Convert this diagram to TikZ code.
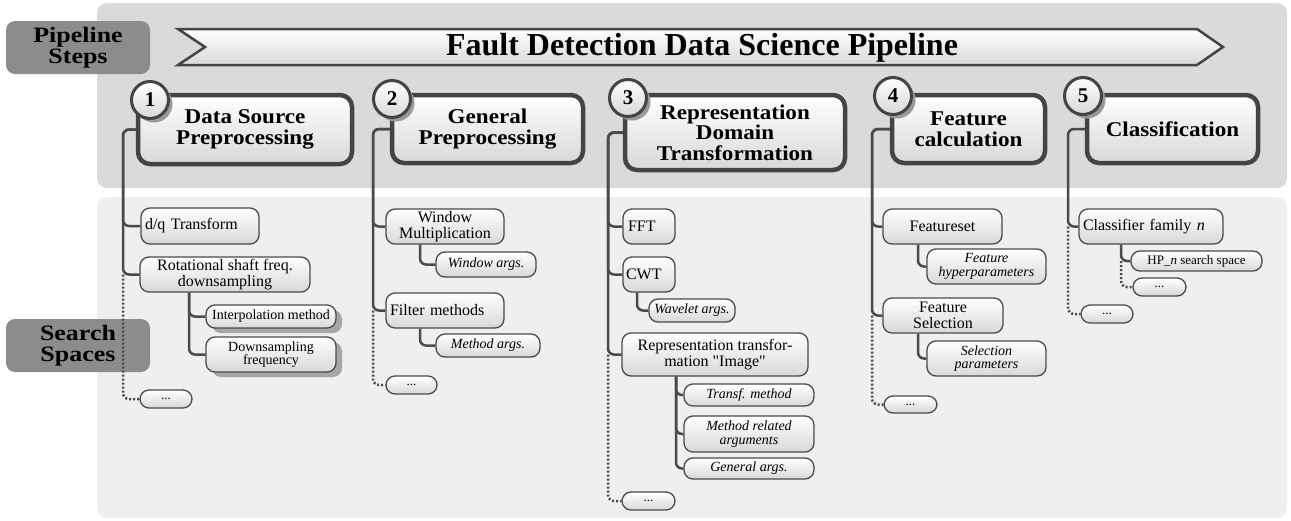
\documentclass[tikz,border=0pt]{standalone}
\usepackage{fontspec}
\setmainfont{LiberationSerif}[Extension=.ttf, UprightFont=*-Regular, BoldFont=*-Bold, ItalicFont=*-Italic, BoldItalicFont=*-BoldItalic]
\newfontfamily\widebf{LiberationSerif}[Extension=.ttf, UprightFont=*-Regular, BoldFont=*-Bold, ItalicFont=*-Italic, BoldItalicFont=*-BoldItalic, FakeStretch=1.1]
\newfontfamily\labfont{LiberationSerif}[Extension=.ttf, UprightFont=*-Regular, BoldFont=*-Bold, ItalicFont=*-Italic, BoldItalicFont=*-BoldItalic, FakeStretch=1.18]
\usetikzlibrary{shadows}
\definecolor{panelTop}{HTML}{DADADA}
\definecolor{panelBot}{HTML}{EFEFEF}
\definecolor{labelGray}{HTML}{8C8C8C}
\definecolor{lineGray}{HTML}{4A4A4A}
\definecolor{boxBorder}{HTML}{444444}
\definecolor{shadeBot}{HTML}{D8D8D8}
\pgfdeclarelayer{back}
\pgfdeclarelayer{mid}
\pgfsetlayers{back,mid,main}
\tikzset{
  stepbox/.style={draw=boxBorder, line width=4.5pt, rounded corners=12pt, top color=white, bottom color=shadeBot, align=center, inner sep=2pt, font=\widebf\bfseries\fontsize{21}{20.5}\selectfont},
  stepnum/.style={circle, draw=boxBorder, line width=3pt, minimum size=37pt, inner sep=0pt, top color=white, bottom color=shadeBot, drop shadow={shadow xshift=4pt, shadow yshift=-4pt, fill=black!40, opacity=1}, font=\bfseries\fontsize{21}{21}\selectfont},
  lab/.style={fill=labelGray, rounded corners=9pt, minimum width=144pt, minimum height=53pt, align=center, inner sep=0pt, font=\labfont\bfseries\fontsize{22}{21}\selectfont},
  leafbox/.style={draw=lineGray, line width=1.3pt, rounded corners=9pt, top color=white, bottom color=shadeBot, align=center, inner sep=1pt, font=\fontsize{16}{15.5}\selectfont},
  lft/.style={align=left, text width=#1},
  argbox/.style={leafbox, font=\itshape\fontsize{14}{13.5}\selectfont},
  smallbox/.style={leafbox, font=\fontsize{14}{13}\selectfont},
  tinybox/.style={leafbox, font=\fontsize{13}{13}\selectfont},
  shad/.style={drop shadow={shadow xshift=6pt, shadow yshift=-5pt, fill=black!35, opacity=1}},
  conn/.style={draw=lineGray, line width=2.5pt, rounded corners=6pt},
  dotconn/.style={draw=lineGray, line width=2.5pt, dash pattern=on 2pt off 2pt, rounded corners=6pt},
  banner/.style={draw=boxBorder, line width=2.5pt, top color=white, bottom color=shadeBot, line join=miter},
}
\newcommand\mkleaf[7][leafbox]{\node[#1,minimum width={(#5)-(#3)},minimum height={(#6)-(#4)}] (#2) at ({((#3)+(#5))/2},{-((#4)+(#6))/2}) {#7};}
\begin{document}
\begin{tikzpicture}[x=1pt,y=1pt]
\useasboundingbox (0,0) rectangle (1291,-520);
\begin{pgfonlayer}{back}
  \fill[panelTop, rounded corners=10pt] (97,-3) rectangle (1287,-188);
  \fill[panelBot, rounded corners=10pt] (97,-197) rectangle (1287,-518);
  \node[lab] (lstep) at (78,-47.5) {Pipeline\\Steps};
  \node[lab] (lsearch) at (78,-345.5) {Search\\Spaces};
  \draw[banner] (178,-29) -- (1197,-29) -- (1223,-47) -- (1197,-65) -- (178,-65) -- (205,-47) -- cycle;
\end{pgfonlayer}
\node[font=\bfseries\fontsize{32}{32}\selectfont] (title) at (702,-47.5) {Fault Detection Data Science Pipeline};

% step boxes
\mkleaf[stepbox]{s1}{138}{95}{352}{164}{Data Source\\Preprocessing}
\mkleaf[stepbox]{s2}{392}{95}{583}{163}{General\\Preprocessing}
\mkleaf[stepbox]{s3}{625}{95}{845}{170}{Representation\\Domain\\Transformation}
\mkleaf[stepbox]{s4}{892}{95}{1045}{163}{Feature\\calculation}
\mkleaf[stepbox]{s5}{1087}{95}{1258}{163}{Classification}
\node[stepnum] (n1) at (150,-100) {1};
\node[stepnum] (n2) at (392,-99) {2};
\node[stepnum] (n3) at (628,-98) {3};
\node[stepnum] (n4) at (893,-96) {4};
\node[stepnum] (n5) at (1083,-96) {5};

% column 1
\mkleaf[leafbox,lft=110pt]{dq}{141}{208}{259}{244}{d/q Transform}
\mkleaf{rot}{140}{257}{310}{292}{Rotational shaft freq.\\downsampling}
\mkleaf[smallbox,shad]{interp}{206}{305}{336}{328}{Interpolation method}
\mkleaf[smallbox,shad]{dsf}{206}{337}{336}{372}{Downsampling\\frequency}
\mkleaf[tinybox]{dots1}{140}{390}{192}{408}{...}
% column 2
\mkleaf{win}{386}{209}{504}{244}{Window\\Multiplication}
\mkleaf[argbox]{winargs}{436}{252}{536}{277}{Window args.}
\mkleaf[leafbox,lft=110pt]{filt}{386}{293}{504}{328}{Filter methods}
\mkleaf[argbox]{methargs}{436}{334}{540}{357}{Method args.}
\mkleaf[tinybox]{dots2}{386}{376}{437}{394}{...}
% column 3
\mkleaf[leafbox,lft=42pt]{fft}{623}{209}{675}{244}{FFT}
\mkleaf[leafbox,lft=46pt]{cwt}{623}{257}{675}{292}{CWT}
\mkleaf[argbox]{wav}{649}{299}{735}{322}{Wavelet args.}
\mkleaf{rep}{622}{333}{808}{376}{Representation transfor-\\mation \textquotedbl Image\textquotedbl}
\mkleaf[argbox]{tm}{684}{384}{814}{406}{Transf. method}
\mkleaf[argbox]{mra}{684}{416}{814}{452}{Method related\\arguments}
\mkleaf[argbox]{ga}{684}{458}{814}{479}{General args.}
\mkleaf[tinybox]{dots3}{622}{492}{675}{510}{...}
% column 4
\mkleaf{fs}{883}{209}{1002}{244}{Featureset}
\mkleaf[argbox]{fh}{927}{249}{1046}{284}{Feature\\hyperparameters}
\mkleaf{fsel}{883}{298}{1003}{333}{Feature\\Selection}
\mkleaf[argbox]{sp}{927}{341}{1046}{376}{Selection\\parameters}
\mkleaf[tinybox]{dots4}{884}{396}{937}{413}{...}
% column 5
\mkleaf[leafbox,lft=136pt]{cf}{1079}{209}{1223}{244}{Classifier family \textit{n}}
\mkleaf[tinybox]{hp}{1131}{251}{1262}{271}{HP\_\textit{n} search space}
\mkleaf[tinybox]{dots5a}{1133}{278}{1186}{296}{...}
\mkleaf[tinybox]{dots5}{1081}{305}{1133}{323}{...}

\coordinate (t1) at (123,0); \coordinate (u1) at (189,0);
\coordinate (t2) at (373,0); \coordinate (u2) at (420,0);
\coordinate (t3) at (608,0); \coordinate (u3) at (637,0); \coordinate (v3) at (676,0);
\coordinate (t4) at (872,0); \coordinate (u4) at (918,0);
\coordinate (t5) at (1068,0); \coordinate (u5) at (1121,0);

\begin{pgfonlayer}{mid}
  % col 1
  \draw[conn] (s1.west) -| (dq.west -| t1) -- (dq.west);
  \draw[conn] (s1.west) -| (rot.west -| t1) -- (rot.west);
  \draw[dotconn] (rot.west -| t1) -- (dots1.west -| t1) -- (dots1.west);
  \draw[conn] (rot.south -| u1) -- (interp.west -| u1) -- (interp.west);
  \draw[conn] (rot.south -| u1) -- (dsf.west -| u1) -- (dsf.west);
  % col 2
  \draw[conn] (s2.west) -| (win.west -| t2) -- (win.west);
  \draw[conn] (s2.west) -| (filt.west -| t2) -- (filt.west);
  \draw[dotconn] (filt.west -| t2) -- (dots2.west -| t2) -- (dots2.west);
  \draw[conn] (win.south -| u2) -- (winargs.west -| u2) -- (winargs.west);
  \draw[conn] (filt.south -| u2) -- (methargs.west -| u2) -- (methargs.west);
  % col 3
  \draw[conn] (s3.west) -| (fft.west -| t3) -- (fft.west);
  \draw[conn] (s3.west) -| (cwt.west -| t3) -- (cwt.west);
  \draw[conn] (s3.west) -| (rep.west -| t3) -- (rep.west);
  \draw[dotconn] (rep.west -| t3) -- (dots3.west -| t3) -- (dots3.west);
  \draw[conn] (cwt.south -| u3) -- (wav.west -| u3) -- (wav.west);
  \draw[conn] (rep.south -| v3) -- (tm.west -| v3) -- (tm.west);
  \draw[conn] (rep.south -| v3) -- (mra.west -| v3) -- (mra.west);
  \draw[conn] (rep.south -| v3) -- (ga.west -| v3) -- (ga.west);
  % col 4
  \draw[conn] (s4.west) -| (fs.west -| t4) -- (fs.west);
  \draw[conn] (s4.west) -| (fsel.west -| t4) -- (fsel.west);
  \draw[dotconn] (fsel.west -| t4) -- (dots4.west -| t4) -- (dots4.west);
  \draw[conn] (fs.south -| u4) -- (fh.west -| u4) -- (fh.west);
  \draw[conn] (fsel.south -| u4) -- (sp.west -| u4) -- (sp.west);
  % col 5
  \draw[conn] (s5.west) -| (cf.west -| t5) -- (cf.west);
  \draw[dotconn] (cf.west -| t5) -- (dots5.west -| t5) -- (dots5.west);
  \draw[conn] (cf.south -| u5) -- (hp.west -| u5) -- (hp.west);
  \draw[dotconn] (hp.west -| u5) -- (dots5a.west -| u5) -- (dots5a.west);
\end{pgfonlayer}
\end{tikzpicture}
\end{document}
